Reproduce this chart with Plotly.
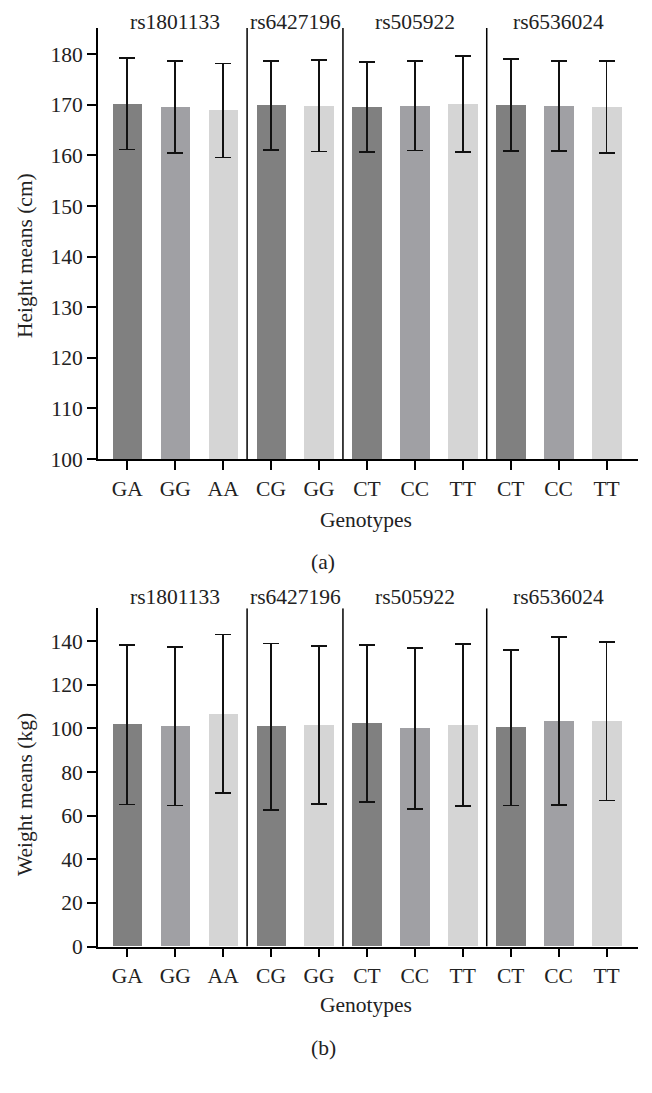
import plotly.graph_objects as go

genotypes = ["GA", "GG", "AA", "CG", "GG", "CT", "CC", "TT", "CT", "CC", "TT"]
snps = ["rs1801133", "rs6427196", "rs505922", "rs6536024"]
snp_centers = [1, 3.5, 6, 9]
separators = [2.5, 4.5, 7.5]

height_mean = [170.2, 169.6, 168.9, 169.9, 169.8, 169.6, 169.8, 170.2, 170.0, 169.8, 169.6]
height_sd = [9.0, 9.1, 9.3, 8.8, 9.0, 8.85, 8.8, 9.45, 9.1, 8.85, 9.1]

weight_mean = [101.7, 101.0, 106.7, 100.8, 101.6, 102.3, 100.0, 101.6, 100.3, 103.4, 103.3]
weight_sd = [36.6, 36.3, 36.4, 38.2, 36.1, 35.9, 36.9, 37.1, 35.6, 38.5, 36.3]

bar_colors = ["#808080", "#a0a0a4", "#d5d5d5", "#808080", "#d5d5d5",
              "#808080", "#a0a0a4", "#d5d5d5", "#808080", "#a0a0a4", "#d5d5d5"]

FONT = "Liberation Serif"
FS = 21.5
OFF = 8  # default page body margin
W, H = 652 - 2 * OFF, 1093 - 2 * OFF

def px_x(v):
    return (v - OFF) / W

def px_y(v):
    return 1 - (v - OFF) / H

x = list(range(len(genotypes)))
fig = go.Figure()
for yax, means, sds in [("y", height_mean, height_sd), ("y2", weight_mean, weight_sd)]:
    fig.add_trace(go.Bar(
        x=x, y=means, marker=dict(color=bar_colors, line=dict(width=0)),
        width=0.62, yaxis=yax, xaxis="x" if yax == "y" else "x2",
        error_y=dict(type="data", array=sds, visible=True, color="#111",
                     thickness=1.8, width=8),
        showlegend=False,
    ))

xr = [-0.617, 10.65]
xdom = [px_x(97.7), px_x(637.7)]
axis_common = dict(showline=True, linecolor="black", linewidth=1.5, ticks="outside",
                   ticklen=9, tickwidth=1.5, tickcolor="black", showgrid=False,
                   zeroline=False, automargin=False,
                   tickfont=dict(family=FONT, size=FS, color="#222"))
fig.update_layout(
    template="none",
    width=W, height=H, margin=dict(l=0, r=0, t=0, b=0, pad=0),
    plot_bgcolor="white", paper_bgcolor="white", bargap=0,
    xaxis=dict(domain=xdom, range=xr, anchor="y", tickvals=x, ticktext=genotypes, **axis_common),
    xaxis2=dict(domain=xdom, range=xr, anchor="y2", tickvals=x, ticktext=genotypes, **axis_common),
    yaxis=dict(domain=[px_y(459), px_y(28)], range=[100, 185.2], anchor="x",
               tickvals=[100, 110, 120, 130, 140, 150, 160, 170, 180], **axis_common),
    yaxis2=dict(domain=[px_y(946.5), px_y(608.3)], range=[0, 155.1], anchor="x2",
                tickvals=[0, 20, 40, 60, 80, 100, 120, 140], **axis_common),
)

shapes = []
for s in separators:
    shapes.append(dict(type="line", xref="x", yref="y", x0=s, x1=s, y0=100, y1=185.2,
                       line=dict(color="black", width=1.5)))
    shapes.append(dict(type="line", xref="x2", yref="y2", x0=s, x1=s, y0=0, y1=155.1,
                       line=dict(color="black", width=1.5)))
fig.update_layout(shapes=shapes)

ann = []
tf = dict(family=FONT, size=FS, color="#222")
C = dict(showarrow=False, font=tf, xanchor="center", yanchor="middle")
for c, name in zip(snp_centers, snps):
    ann.append(dict(x=c, xref="x", y=px_y(21.7), yref="paper", text=name, **C))
    ann.append(dict(x=c, xref="x2", y=px_y(597), yref="paper", text=name, **C))
ann += [
    dict(x=px_x(25), y=px_y(256), xref="paper", yref="paper", text="Height means (cm)",
         textangle=-90, **C),
    dict(x=px_x(25), y=px_y(795), xref="paper", yref="paper", text="Weight means (kg)",
         textangle=-90, **C),
    dict(x=px_x(366), y=px_y(520), xref="paper", yref="paper", text="Genotypes", **C),
    dict(x=px_x(366), y=px_y(1005), xref="paper", yref="paper", text="Genotypes", **C),
    dict(x=px_x(323), y=px_y(561.7), xref="paper", yref="paper", text="(a)", **C),
    dict(x=px_x(323), y=px_y(1048), xref="paper", yref="paper", text="(b)", **C),
]
fig.update_layout(annotations=ann)

fig.write_html("out.html")
